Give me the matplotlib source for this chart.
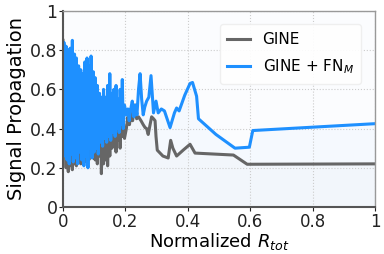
import numpy as np
import matplotlib
matplotlib.use('Agg')
import matplotlib.pyplot as plt

# x positions (normalized R_tot) and signal propagation values
gine_x = [0.000, 0.003, 0.006, 0.010, 0.013, 0.017, 0.020, 0.023, 0.027, 0.030,
          0.033, 0.037, 0.040, 0.043, 0.047, 0.050, 0.053, 0.057, 0.060, 0.063,
          0.067, 0.070, 0.073, 0.077, 0.080, 0.083, 0.087, 0.090, 0.093, 0.097,
          0.100, 0.103, 0.107, 0.110, 0.113, 0.117, 0.120, 0.123, 0.127, 0.130,
          0.133, 0.137, 0.140, 0.143, 0.147, 0.150, 0.153, 0.157, 0.160, 0.163,
          0.167, 0.170, 0.173, 0.177, 0.180, 0.183, 0.187, 0.190, 0.193, 0.197,
          0.203, 0.208, 0.213, 0.218, 0.223, 0.230, 0.236, 0.242, 0.250, 0.257,
          0.263, 0.268, 0.273, 0.279, 0.284, 0.290, 0.295, 0.298, 0.302, 0.320,
          0.337, 0.345, 0.352, 0.364, 0.385, 0.407, 0.423, 0.546, 0.590, 1.000]
gine_y = [0.85, 0.28, 0.82, 0.20, 0.78, 0.18, 0.74, 0.21, 0.70, 0.19,
          0.66, 0.22, 0.62, 0.21, 0.58, 0.24, 0.55, 0.22, 0.60, 0.25,
          0.52, 0.23, 0.56, 0.26, 0.72, 0.24, 0.50, 0.27, 0.46, 0.25,
          0.44, 0.24, 0.48, 0.22, 0.42, 0.26, 0.46, 0.17, 0.40, 0.22,
          0.44, 0.24, 0.38, 0.21, 0.42, 0.26, 0.46, 0.30, 0.36, 0.32,
          0.44, 0.28, 0.48, 0.34, 0.42, 0.30, 0.46, 0.36, 0.44, 0.35,
          0.40, 0.46, 0.42, 0.48, 0.44, 0.52, 0.45, 0.46, 0.44, 0.42,
          0.405, 0.40, 0.37, 0.42, 0.46, 0.45, 0.44, 0.36, 0.29, 0.26,
          0.25, 0.34, 0.30, 0.26, 0.29, 0.32, 0.275, 0.265, 0.218, 0.22]

fn_x = [0.000, 0.003, 0.006, 0.010, 0.013, 0.017, 0.020, 0.023, 0.027, 0.030,
        0.033, 0.037, 0.040, 0.043, 0.047, 0.050, 0.053, 0.057, 0.060, 0.063,
        0.067, 0.070, 0.073, 0.077, 0.080, 0.083, 0.087, 0.090, 0.093, 0.097,
        0.100, 0.103, 0.107, 0.110, 0.113, 0.117, 0.120, 0.123, 0.127, 0.130,
        0.133, 0.137, 0.140, 0.143, 0.147, 0.150, 0.153, 0.157, 0.160, 0.163,
        0.167, 0.170, 0.173, 0.177, 0.180, 0.183, 0.187, 0.190, 0.193, 0.197,
        0.203, 0.208, 0.212, 0.217, 0.222, 0.227, 0.232, 0.237, 0.242, 0.247,
        0.252, 0.257, 0.262, 0.268, 0.275, 0.282, 0.290, 0.298, 0.305, 0.315,
        0.325, 0.343, 0.357, 0.364, 0.372, 0.390, 0.407, 0.415, 0.428, 0.434,
        0.490, 0.551, 0.597, 0.608, 1.000]
fn_y = [0.30, 0.84, 0.26, 0.82, 0.24, 0.80, 0.22, 0.81, 0.27, 0.85,
        0.23, 0.78, 0.25, 0.76, 0.22, 0.72, 0.28, 0.70, 0.24, 0.68,
        0.21, 0.74, 0.26, 0.76, 0.20, 0.72, 0.30, 0.77, 0.25, 0.69,
        0.28, 0.66, 0.30, 0.62, 0.27, 0.58, 0.33, 0.56, 0.31, 0.60,
        0.35, 0.56, 0.33, 0.62, 0.36, 0.68, 0.34, 0.58, 0.38, 0.60,
        0.36, 0.62, 0.40, 0.55, 0.38, 0.60, 0.42, 0.65, 0.40, 0.52,
        0.47, 0.50, 0.44, 0.50, 0.54, 0.46, 0.52, 0.47, 0.60, 0.68,
        0.55, 0.47, 0.51, 0.54, 0.56, 0.67, 0.48, 0.54, 0.48, 0.50,
        0.49, 0.405, 0.48, 0.505, 0.49, 0.57, 0.63, 0.635, 0.565, 0.45,
        0.37, 0.30, 0.305, 0.39, 0.425]

ticks = [0, 0.2, 0.4, 0.6, 0.8, 1]
tick_labels = ['0', '0.2', '0.4', '0.6', '0.8', '1']

gray_c = '#666666'
blue_c = '#1e90ff'

fig = plt.figure(figsize=(3.84, 2.54), dpi=100)
ax = fig.add_axes([0.164, 0.185, 0.813, 0.772])
ax.set_facecolor('#fbfcfe')

ax.fill_between(gine_x, gine_y, 0, color=gray_c, alpha=0.015, lw=0)
ax.fill_between(fn_x, fn_y, 0, color=blue_c, alpha=0.025, lw=0)
ax.plot(gine_x, gine_y, color=gray_c, lw=2.2, label='GINE')
ax.plot(fn_x, fn_y, color=blue_c, lw=2.2, label='GINE + FN$_M$')

ax.set_xlim(0, 1)
ax.set_ylim(0, 1)
ax.set_xticks(ticks)
ax.set_xticklabels(tick_labels)
ax.set_yticks(ticks)
ax.set_yticklabels(tick_labels)
ax.tick_params(labelsize=12.5, length=3, pad=1, colors='#222222')
ax.tick_params(axis='x', labelsize=12)
ax.grid(True, color='#cccccc', ls=':', lw=0.8)

for s in ['left', 'bottom']:
    ax.spines[s].set_color('#555555')
    ax.spines[s].set_linewidth(1.5)
for s in ['top', 'right']:
    ax.spines[s].set_color('#999999')
    ax.spines[s].set_linewidth(1.0)

ax.set_xlabel('Normalized $R_{tot}$', fontsize=13, labelpad=0)
ax.set_ylabel('Signal Propagation', fontsize=14, labelpad=3)

leg = ax.legend(loc='upper right', fontsize=11, handlelength=1.5,
                framealpha=0.9, borderpad=0.5, labelspacing=0.7,
                bbox_to_anchor=(0.98, 0.97))
leg.get_frame().set_edgecolor('#eeeeee')

fig.savefig('out.png', dpi=100)
